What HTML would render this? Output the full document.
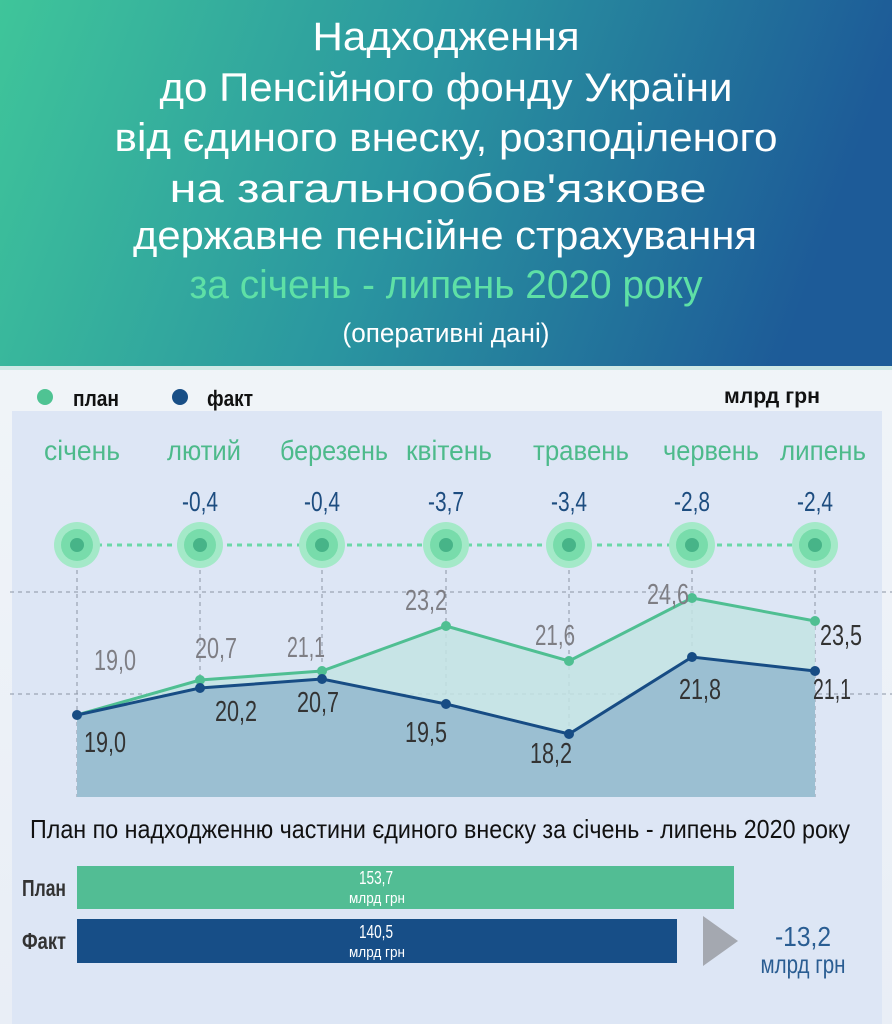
<!DOCTYPE html>
<html><head><meta charset="utf-8"><style>
html,body{margin:0;padding:0;width:892px;height:1024px;overflow:hidden}
svg text{font-family:"Liberation Sans Narrow","Liberation Sans","DejaVu Sans Condensed",sans-serif}
</style></head><body>
<svg width="892" height="1024" viewBox="0 0 892 1024" xmlns="http://www.w3.org/2000/svg">
<defs>
<linearGradient id="hg" x1="0" y1="0" x2="1" y2="0.15">
<stop offset="0" stop-color="#3fc59a"/><stop offset="0.5" stop-color="#2a96a0"/><stop offset="1" stop-color="#1d5b98"/>
</linearGradient>
<linearGradient id="bg" x1="0" y1="0" x2="0" y2="1">
<stop offset="0" stop-color="#f4f8fa"/><stop offset="1" stop-color="#e9eef6"/>
</linearGradient>
</defs>
<rect width="892" height="1024" fill="url(#bg)"/>
<rect width="892" height="366" fill="url(#hg)"/>
<rect y="366" width="892" height="4" fill="#cfe9e6"/>
<g fill="#fff" text-anchor="middle" font-size="40">
<text x="446" y="50" textLength="267" lengthAdjust="spacingAndGlyphs">Надходження</text>
<text x="446" y="101" textLength="573" lengthAdjust="spacingAndGlyphs">до Пенсійного фонду України</text>
<text x="446" y="151" textLength="663" lengthAdjust="spacingAndGlyphs">від єдиного внеску, розподіленого</text>
<text x="438" y="202" textLength="537" lengthAdjust="spacingAndGlyphs">на загальнообов'язкове</text>
<text x="445" y="249" textLength="624" lengthAdjust="spacingAndGlyphs">державне пенсійне страхування</text>
<text x="446" y="298" textLength="513" lengthAdjust="spacingAndGlyphs" fill="#5ee0a6">за січень - липень 2020 року</text>
<text x="446" y="342" font-size="27" textLength="207" lengthAdjust="spacingAndGlyphs">(оперативні дані)</text>
</g>
<rect x="12" y="411" width="870" height="613" fill="#dde6f5"/>
<circle cx="45" cy="397" r="8" fill="#4fc393"/>
<text x="73" y="406" font-size="22" font-weight="bold" fill="#111" textLength="46" lengthAdjust="spacingAndGlyphs">план</text>
<circle cx="180" cy="397" r="8" fill="#184e86"/>
<text x="207" y="406" font-size="22" font-weight="bold" fill="#111" textLength="46" lengthAdjust="spacingAndGlyphs">факт</text>
<text x="724" y="403" font-size="21" font-weight="bold" fill="#111" textLength="96" lengthAdjust="spacingAndGlyphs">млрд грн</text>
<g fill="#4dba8b" font-size="28" text-anchor="middle">
<text x="82" y="460" textLength="76" lengthAdjust="spacingAndGlyphs">січень</text>
<text x="204" y="460" textLength="74" lengthAdjust="spacingAndGlyphs">лютий</text>
<text x="334" y="460" textLength="108" lengthAdjust="spacingAndGlyphs">березень</text>
<text x="449" y="460" textLength="86" lengthAdjust="spacingAndGlyphs">квітень</text>
<text x="581" y="460" textLength="96" lengthAdjust="spacingAndGlyphs">травень</text>
<text x="711" y="460" textLength="96" lengthAdjust="spacingAndGlyphs">червень</text>
<text x="823" y="460" textLength="86" lengthAdjust="spacingAndGlyphs">липень</text>
</g>
<g fill="#1d4d80" font-size="28" text-anchor="middle">
<text x="200" y="511" textLength="36" lengthAdjust="spacingAndGlyphs">-0,4</text><text x="322" y="511" textLength="36" lengthAdjust="spacingAndGlyphs">-0,4</text><text x="446" y="511" textLength="36" lengthAdjust="spacingAndGlyphs">-3,7</text>
<text x="569" y="511" textLength="36" lengthAdjust="spacingAndGlyphs">-3,4</text><text x="692" y="511" textLength="36" lengthAdjust="spacingAndGlyphs">-2,8</text><text x="815" y="511" textLength="36" lengthAdjust="spacingAndGlyphs">-2,4</text>
</g>
<line x1="77" y1="545" x2="815" y2="545" stroke="#6ad8a7" stroke-width="3" stroke-dasharray="5,5"/>
<g>
<g fill="#a4e9c8"><circle cx="77" cy="545" r="23"/><circle cx="200" cy="545" r="23"/><circle cx="322" cy="545" r="23"/><circle cx="446" cy="545" r="23"/><circle cx="569" cy="545" r="23"/><circle cx="692" cy="545" r="23"/><circle cx="815" cy="545" r="23"/></g>
<g fill="#78dcab"><circle cx="77" cy="545" r="16"/><circle cx="200" cy="545" r="16"/><circle cx="322" cy="545" r="16"/><circle cx="446" cy="545" r="16"/><circle cx="569" cy="545" r="16"/><circle cx="692" cy="545" r="16"/><circle cx="815" cy="545" r="16"/></g>
<g fill="#47b488"><circle cx="77" cy="545" r="7"/><circle cx="200" cy="545" r="7"/><circle cx="322" cy="545" r="7"/><circle cx="446" cy="545" r="7"/><circle cx="569" cy="545" r="7"/><circle cx="692" cy="545" r="7"/><circle cx="815" cy="545" r="7"/></g>
</g>
<g stroke="#8a94a4" stroke-width="1" stroke-dasharray="4,4">
<line x1="10" y1="592" x2="892" y2="592"/><line x1="10" y1="694" x2="892" y2="694"/>
<line x1="77" y1="570" x2="77" y2="797"/><line x1="200" y1="570" x2="200" y2="797"/><line x1="322" y1="570" x2="322" y2="797"/><line x1="446" y1="570" x2="446" y2="797"/><line x1="569" y1="570" x2="569" y2="797"/><line x1="692" y1="570" x2="692" y2="797"/><line x1="815" y1="570" x2="815" y2="797"/>
</g>
<polygon points="77,715 200,680 322,671 446,626 569,661 692,598 815,621 815,797 77,797" fill="#c3e3e3" opacity="0.85"/>
<polygon points="77,715 200,688 322,679 446,704 569,734 692,657 815,671 815,797 77,797" fill="#9bbfd2"/>
<polyline points="77,715 200,680 322,671 446,626 569,661 692,598 815,621" fill="none" stroke="#4fbf92" stroke-width="3"/>
<polyline points="77,715 200,688 322,679 446,704 569,734 692,657 815,671" fill="none" stroke="#174c84" stroke-width="3"/>
<g fill="#4fbf92"><circle cx="200" cy="680" r="5"/><circle cx="322" cy="671" r="5"/><circle cx="446" cy="626" r="5"/><circle cx="569" cy="661" r="5"/><circle cx="692" cy="598" r="5"/><circle cx="815" cy="621" r="5"/></g>
<g fill="#174c84"><circle cx="77" cy="715" r="5"/><circle cx="200" cy="688" r="5"/><circle cx="322" cy="679" r="5"/><circle cx="446" cy="704" r="5"/><circle cx="569" cy="734" r="5"/><circle cx="692" cy="657" r="5"/><circle cx="815" cy="671" r="5"/></g>
<g fill="#7e7e84" font-size="29" text-anchor="middle">
<text x="115" y="670" textLength="42" lengthAdjust="spacingAndGlyphs">19,0</text><text x="216" y="658" textLength="42" lengthAdjust="spacingAndGlyphs">20,7</text><text x="306" y="657" textLength="38" lengthAdjust="spacingAndGlyphs">21,1</text>
<text x="426" y="610" textLength="42" lengthAdjust="spacingAndGlyphs">23,2</text><text x="555" y="645" textLength="40" lengthAdjust="spacingAndGlyphs">21,6</text><text x="668" y="604" textLength="42" lengthAdjust="spacingAndGlyphs">24,6</text>
</g>
<g fill="#333" font-size="29" text-anchor="middle">
<text x="841" y="645" textLength="42" lengthAdjust="spacingAndGlyphs">23,5</text>
<text x="105" y="752" textLength="42" lengthAdjust="spacingAndGlyphs">19,0</text><text x="236" y="721" textLength="42" lengthAdjust="spacingAndGlyphs">20,2</text><text x="318" y="712" textLength="42" lengthAdjust="spacingAndGlyphs">20,7</text>
<text x="426" y="742" textLength="42" lengthAdjust="spacingAndGlyphs">19,5</text><text x="551" y="763" textLength="42" lengthAdjust="spacingAndGlyphs">18,2</text><text x="700" y="699" textLength="42" lengthAdjust="spacingAndGlyphs">21,8</text><text x="832" y="699" textLength="38" lengthAdjust="spacingAndGlyphs">21,1</text>
</g>
<text x="440" y="838" font-size="26" fill="#111" text-anchor="middle" textLength="820" lengthAdjust="spacingAndGlyphs">План по надходженню частини єдиного внеску за січень - липень 2020 року</text>
<rect x="77" y="866" width="657" height="43" fill="#52bd94"/>
<rect x="77" y="919" width="600" height="44" fill="#174e87"/>
<text x="22" y="896" font-size="23" font-weight="bold" fill="#333" textLength="44" lengthAdjust="spacingAndGlyphs">План</text>
<text x="22" y="949" font-size="23" font-weight="bold" fill="#333" textLength="44" lengthAdjust="spacingAndGlyphs">Факт</text>
<g fill="#fff" font-size="18" text-anchor="middle">
<text x="376" y="884" textLength="34" lengthAdjust="spacingAndGlyphs">153,7</text><text x="377" y="903" font-size="15" textLength="56" lengthAdjust="spacingAndGlyphs">млрд грн</text>
<text x="376" y="938" textLength="34" lengthAdjust="spacingAndGlyphs">140,5</text><text x="377" y="957" font-size="15" textLength="56" lengthAdjust="spacingAndGlyphs">млрд грн</text>
</g>
<polygon points="703,916 738,941 703,966" fill="#a4a8b0"/>
<text x="803" y="946" font-size="28" fill="#2a5d92" text-anchor="middle" textLength="56" lengthAdjust="spacingAndGlyphs">-13,2</text>
<text x="803" y="973" font-size="26" fill="#2a5d92" text-anchor="middle" textLength="85" lengthAdjust="spacingAndGlyphs">млрд грн</text>
</svg>
</body></html>
